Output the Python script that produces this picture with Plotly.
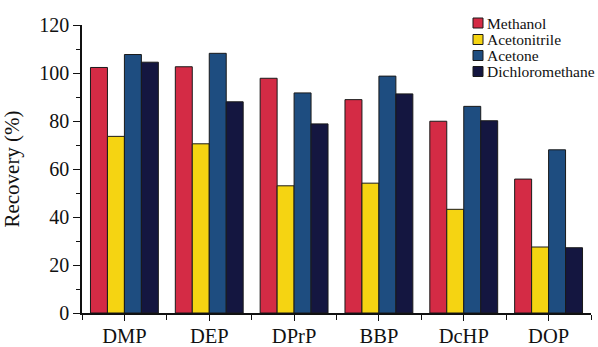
import plotly.graph_objects as go

categories = ["DMP", "DEP", "DPrP", "BBP", "DcHP", "DOP"]
series_names = ["Methanol", "Acetonitrile", "Acetone", "Dichloromethane"]
methanol = [102.3, 102.6, 97.8, 88.9, 79.9, 55.8]
acetonitrile = [73.6, 70.5, 53.0, 54.1, 43.2, 27.5]
acetone = [107.7, 108.2, 91.7, 98.7, 86.1, 68.0]
dichloromethane = [104.5, 88.0, 78.8, 91.3, 80.1, 27.2]
colors = ["#d42b45", "#f5d412", "#1e4d80", "#141640"]
y_ticks = [0, 20, 40, 60, 80, 100, 120]

FONT = "Liberation Serif"
W, H = 598, 347
L, R, T, B = 82, 7, 25, 34

xs = list(range(len(categories)))
values = [methanol, acetonitrile, acetone, dichloromethane]

fig = go.Figure()
for name, vals, col in zip(series_names, values, colors):
    fig.add_trace(go.Bar(
        x=xs, y=vals, name=name, showlegend=False,
        marker=dict(color=col, line=dict(color="#1a1a1a", width=1)),
    ))

# custom legend (paper coordinates)
pw = W - L - R
ph = H - T - B
def px_to_xp(px):
    return (px - L) / pw
def py_to_yp(py):
    return (H - B - py) / ph

row_y = [23, 39.5, 55.5, 71.5]
for name, col, ry in zip(series_names, colors, row_y):
    fig.add_shape(type="rect", xref="paper", yref="paper",
                  x0=px_to_xp(473), x1=px_to_xp(483),
                  y0=py_to_yp(ry + 5), y1=py_to_yp(ry - 5),
                  fillcolor=col, line=dict(color="#1a1a1a", width=1))
    fig.add_annotation(xref="paper", yref="paper", x=px_to_xp(485), y=py_to_yp(ry),
                       text=name, showarrow=False, xanchor="left", yanchor="middle",
                       font=dict(family=FONT, size=15.5, color="#111"))

fig.update_layout(
    width=W, height=H,
    margin=dict(l=L, r=R, t=T, b=B, pad=0),
    paper_bgcolor="white", plot_bgcolor="white",
    barmode="group", bargap=0.2, bargroupgap=0,
    font=dict(family=FONT, size=20, color="#111"),
)
fig.update_xaxes(
    automargin=False,
    range=[-0.5, len(categories) - 0.5],
    tickmode="array", tickvals=xs, ticktext=categories,
    ticks="outside", ticklen=6, tickwidth=1.2, tickcolor="#111",
    ticklabelstandoff=-2,
    showline=True, linecolor="#111", linewidth=1.5,
    showgrid=False, zeroline=False,
    tickfont=dict(family=FONT, size=20.5),
    minor=dict(tickmode="array", tickvals=[i - 0.5 for i in range(len(categories) + 1)],
               ticks="outside", ticklen=5, tickcolor="#111", tickwidth=1.2, showgrid=False),
)
fig.update_yaxes(
    automargin=False,
    range=[0, 120],
    tickmode="array", tickvals=y_ticks,
    ticks="outside", ticklen=7, tickwidth=1.2, tickcolor="#111",
    showline=True, linecolor="#111", linewidth=1.5,
    showgrid=False, zeroline=False,
    tickfont=dict(family=FONT, size=20),
    title=dict(text="Recovery (%)", font=dict(family=FONT, size=21), standoff=14),
    minor=dict(dtick=10, tick0=0, ticks="outside", ticklen=4, tickcolor="#111",
               tickwidth=1.2, showgrid=False),
)

fig.write_html("out.html", config={"displayModeBar": False},
               post_script="document.body.style.margin='0';document.body.style.overflow='hidden';")
